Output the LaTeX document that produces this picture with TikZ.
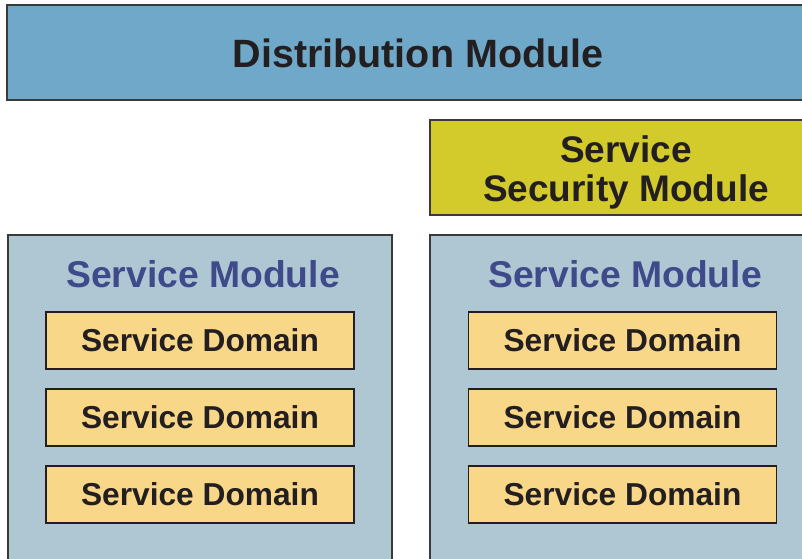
\documentclass[tikz,border=0pt]{standalone}
\usepackage{fontspec}
\setmainfont{Liberation Sans}
\usetikzlibrary{positioning}
\definecolor{distblue}{HTML}{6FA8C9}
\definecolor{secyellow}{HTML}{D3CA2B}
\definecolor{modbg}{HTML}{AFC7D3}
\definecolor{domfill}{HTML}{F9D788}
\definecolor{modtext}{HTML}{3F4A8A}
\definecolor{darktext}{HTML}{231F20}
\definecolor{boxline}{HTML}{3A3A3A}
\tikzstyle{box}=[rectangle,draw=boxline,line width=1.3pt,inner sep=0pt,outer sep=0pt,
                text=darktext,font=\bfseries]
\tikzstyle{top module}=[box,fill=distblue,minimum width=830pt,minimum height=95pt]
\tikzstyle{sec module}=[box,fill=secyellow,minimum width=400pt,minimum height=95pt]
\tikzstyle{svc module}=[box,fill=modbg,minimum width=384pt,minimum height=360pt]
\tikzstyle{svc title}=[text=modtext,font=\fontsize{37.3}{40}\selectfont\bfseries]
\tikzstyle{svc domain}=[box,draw=darktext,line width=1.6pt,fill=domfill,minimum width=308pt,
                minimum height=57pt,font=\fontsize{31.7}{34}\selectfont\bfseries]

\begin{document}
\begin{tikzpicture}[x=1pt,y=-1pt]
\useasboundingbox (0,0) rectangle (802,558);
\clip (0,0) rectangle (802,558);
\node (dist) [top module,anchor=north west] at (7,5) {};
\node (disttext) [text=darktext,font=\fontsize{39.5}{42}\selectfont\bfseries]
  at (418,53) {Distribution Module};
\node (sec) [sec module,anchor=north west] at (430,120) {};
\node (sectext) [align=center,text=darktext,font=\fontsize{37}{39}\selectfont\bfseries]
  at (626,172) {Service\\Security Module};
% service modules
\node (modL) [svc module,anchor=north west] at (8,235) {};
\node (modR) [svc module,anchor=north west] at (430,235) {};
\node (titleL) [svc title] at (203,274) {Service Module};
\node (titleR) [svc title] at (625,274) {Service Module};
\node (dL1) [svc domain] at (200,340.5) {Service Domain};
\node (dL2) [svc domain,below=20pt of dL1] {Service Domain};
\node (dL3) [svc domain,below=20pt of dL2] {Service Domain};
\node (dR1) [svc domain] at (622.5,340.5) {Service Domain};
\node (dR2) [svc domain,below=20pt of dR1] {Service Domain};
\node (dR3) [svc domain,below=20pt of dR2] {Service Domain};
\end{tikzpicture}
\end{document}
